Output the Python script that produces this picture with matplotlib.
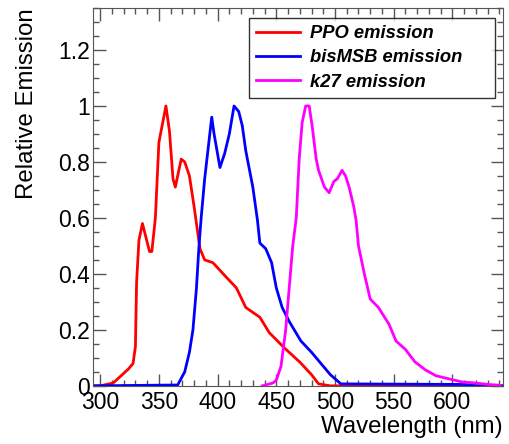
import matplotlib
matplotlib.use("Agg")
import matplotlib.pyplot as plt
from matplotlib.ticker import MultipleLocator, FuncFormatter

# emission spectra (wavelength in nm, relative intensity)
ppo_wl = [294, 300, 311, 324, 328, 330, 331, 333, 336, 342, 344, 347, 350, 356,
          359, 362, 364, 369, 372, 376, 380, 385, 389, 396, 407, 416, 424, 436,
          444, 457, 470, 480, 486, 496, 645]
ppo_em = [0.0, 0.0, 0.01, 0.06, 0.08, 0.14, 0.37, 0.52, 0.58, 0.48, 0.48, 0.6,
          0.87, 1.0, 0.91, 0.74, 0.71, 0.81, 0.8, 0.75, 0.64, 0.49, 0.45, 0.44,
          0.39, 0.35, 0.28, 0.245, 0.19, 0.135, 0.085, 0.04, 0.007, 0.0, 0.0]

bis_wl = [294, 366, 372, 376, 379, 382, 384, 386, 389, 392, 395, 397, 402, 406,
          410, 414, 418, 421, 424, 430, 434, 436, 441, 446, 450, 455, 461, 471,
          480, 488, 496, 505, 610, 620, 645]
bis_em = [0.0, 0.003, 0.05, 0.12, 0.2, 0.35, 0.49, 0.6, 0.74, 0.85, 0.96, 0.9,
          0.78, 0.83, 0.9, 1.0, 0.98, 0.93, 0.84, 0.71, 0.59, 0.51, 0.49, 0.44,
          0.35, 0.28, 0.23, 0.16, 0.12, 0.08, 0.04, 0.007, 0.005, 0.0, 0.0]

k27_wl = [438, 447, 450, 454, 458, 461, 464, 467, 469.5, 472, 475, 478, 480.5,
          484, 486, 491, 495, 499, 502, 506, 509, 512, 516, 518, 520, 525, 530,
          537, 546, 552, 560, 568, 577, 586, 597, 608, 620, 630, 641]
k27_em = [0.0, 0.01, 0.02, 0.07, 0.2, 0.35, 0.5, 0.6, 0.81, 0.94, 1.0, 1.0,
          0.93, 0.81, 0.77, 0.71, 0.69, 0.73, 0.74, 0.77, 0.75, 0.71, 0.64,
          0.59, 0.5, 0.4, 0.31, 0.28, 0.22, 0.16, 0.13, 0.086, 0.057, 0.036,
          0.025, 0.014, 0.01, 0.005, 0.002]

labels = ["PPO emission", "bisMSB emission", "k27 emission"]
colors = ["#ff0000", "#0000ff", "#ff00ff"]

plt.rcParams["font.family"] = ["Liberation Sans", "DejaVu Sans"]

fig = plt.figure(figsize=(5.09, 4.44), dpi=100)
ax = fig.add_axes([0.183, 0.131, 0.805, 0.851])

for wl, em, lab, col in zip([ppo_wl, bis_wl, k27_wl], [ppo_em, bis_em, k27_em],
                            labels, colors):
    ax.plot(wl, em, color=col, lw=2, label=lab)

ax.set_xlim(294, 643)
ax.set_ylim(0, 1.35)

ax.xaxis.set_major_locator(MultipleLocator(50))
ax.xaxis.set_minor_locator(MultipleLocator(10))
ax.yaxis.set_major_locator(MultipleLocator(0.2))
ax.yaxis.set_minor_locator(MultipleLocator(0.05))
ax.yaxis.set_major_formatter(FuncFormatter(lambda v, p: f"{v:g}"))

ax.tick_params(which="both", direction="in", top=True, right=True,
               color="#555555", labelsize=16.5)
ax.tick_params(which="major", length=9, width=1)
ax.tick_params(which="minor", length=4.5, width=1)
ax.tick_params(axis="x", pad=4)
ax.tick_params(axis="y", pad=2)
for sp in ax.spines.values():
    sp.set_color("#555555")

ax.set_xlabel("Wavelength (nm)", fontsize=17.3, loc="right", labelpad=1)
ax.set_ylabel("Relative Emission", fontsize=17.3, loc="top", labelpad=15)

leg = ax.legend(loc="upper left", bbox_to_anchor=(0.38, 0.974, 0.6, 0.0),
                mode="expand", fancybox=False, edgecolor="black",
                prop={"weight": "bold", "style": "italic", "size": 13.2},
                handlelength=2.4, handletextpad=0.55, borderpad=0.4,
                labelspacing=0.4, borderaxespad=0)
leg.get_frame().set_linewidth(1)

fig.savefig("out.png", dpi=100)
